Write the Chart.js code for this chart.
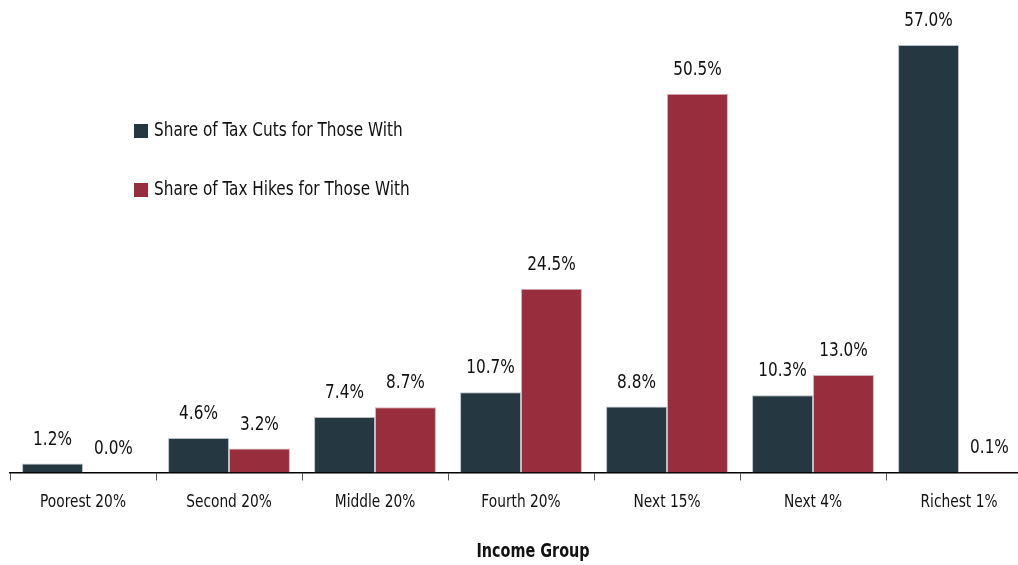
<!DOCTYPE html>
<html>
<head>
<meta charset="utf-8">
<script src="https://cdn.jsdelivr.net/npm/chart.js@4/dist/chart.umd.min.js"></script>
<style>
    html, body { margin: 0; padding: 0; background: #fff; overflow: hidden; }
    #wrap { width: 1032px; height: 565px; }
</style>
</head>
<body>
<div id="wrap"><canvas id="chart"></canvas></div>
<script>
const categories = ['Poorest 20%', 'Second 20%', 'Middle 20%', 'Fourth 20%', 'Next 15%', 'Next 4%', 'Richest 1%'];
const taxCuts = [1.2, 4.6, 7.4, 10.7, 8.8, 10.3, 57.0];
const taxHikes = [0.0, 3.2, 8.7, 24.5, 50.5, 13.0, 0.1];
const seriesNames = ['Share of Tax Cuts for Those With', 'Share of Tax Hikes for Those With'];
const axisTitle = 'Income Group';

const FONT = '"DejaVu Sans Condensed", "Liberation Sans Narrow", sans-serif';
const TEXT = '#111';

// the original uses a narrow face; squeeze the installed condensed one a bit
function narrowText(ctx, text, x, y, align, squeeze) {
    ctx.save();
    ctx.translate(x, y);
    ctx.scale(squeeze || 0.85, 1);
    ctx.textAlign = align;
    ctx.fillText(text, 0, 0);
    ctx.restore();
}

// values above bars
const barValuePlugin = {
    id: 'barValuePlugin',
    afterDatasetsDraw(chart) {
        const {ctx} = chart;
        ctx.save();
        ctx.font = '20px ' + FONT;
        ctx.fillStyle = TEXT;
        ctx.textBaseline = 'middle';
        chart.data.datasets.forEach((dataset, i) => {
            chart.getDatasetMeta(i).data.forEach((bar, index) => {
                narrowText(ctx, dataset.data[index].toFixed(1) + '%', bar.x, bar.y - 24, 'center');
            });
        });
        ctx.restore();
    }
};

// category labels, axis title and the legend inside the plot
const textPlugin = {
    id: 'textPlugin',
    afterDraw(chart) {
        const {ctx, chartArea} = chart;
        const x = chart.scales.x;
        ctx.save();
        ctx.fillStyle = TEXT;
        ctx.textBaseline = 'middle';

        ctx.font = '18px ' + FONT;
        chart.data.labels.forEach((lab, i) => {
            narrowText(ctx, lab, x.getPixelForTick(i), chartArea.bottom + 30, 'center');
        });

        ctx.font = 'bold 20px ' + FONT;
        narrowText(ctx, axisTitle, 533, 552, 'center', 0.8);

        ctx.font = '20px ' + FONT;
        chart.data.datasets.forEach((ds, i) => {
            const y = 131 + i * 59;
            ctx.fillStyle = ds.backgroundColor;
            ctx.fillRect(134, y - 7, 14, 14);
            ctx.fillStyle = TEXT;
            narrowText(ctx, ds.label, 154, y, 'left');
        });
        ctx.restore();
    }
};

new Chart(document.getElementById('chart'), {
    type: 'bar',
    data: {
        labels: categories,
        datasets: [
            {label: seriesNames[0], data: taxCuts, backgroundColor: '#253842', borderColor: '#b9bfc4', borderWidth: 1},
            {label: seriesNames[1], data: taxHikes, backgroundColor: '#982e3d', borderColor: '#d6b3b8', borderWidth: 1}
        ]
    },
    options: {
        responsive: true,
        maintainAspectRatio: false,
        animation: false,
        layout: {padding: {left: 10, right: 0, top: 0, bottom: 39}},
        datasets: {bar: {categoryPercentage: 0.835, barPercentage: 1}},
        scales: {
            y: {display: false, min: 0, max: 63},
            x: {
                offset: true,
                border: {color: '#000', width: 1.5},
                grid: {offset: true, drawOnChartArea: false, drawTicks: true, tickLength: 8, color: '#555'},
                ticks: {color: 'rgba(0,0,0,0)', padding: 12, font: {family: FONT, size: 18}, maxRotation: 0, autoSkip: false}
            }
        },
        plugins: {legend: {display: false}, tooltip: {enabled: false}}
    },
    plugins: [barValuePlugin, textPlugin]
});
</script>
</body>
</html>
